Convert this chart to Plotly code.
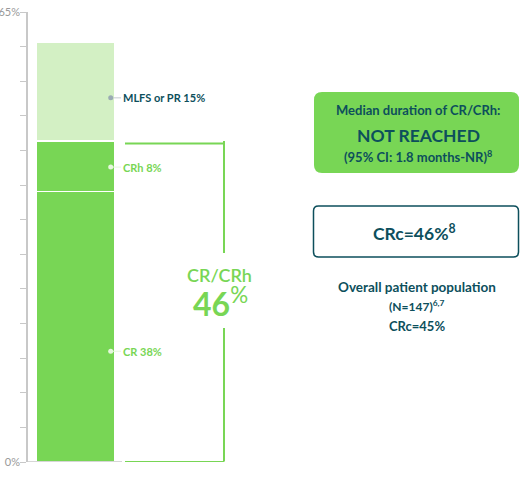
import plotly.graph_objects as go

# data
segments = ["CR", "CRh", "MLFS or PR"]
seg_values = [39.1, 7.3, 14.3]          # bar heights
seg_labels = ["CR 38%", "CRh 8%", "MLFS or PR 15%"]
label_y = [16.0, 42.6, 52.6]
crcrh_total = 46
y_ticks = [0, 65]
y_ticktext = ["0%", "65%"]

W, H = 520, 485
GREEN = "#78d655"
LIGHT = "#d3f0c4"
TEAL = "#0d4f5c"
FONT = "Lato"

def px(x):   # pixel -> paper x
    return x / W

def py(y):   # pixel -> paper y
    return 1 - y / H

def rounded(x0, y0, x1, y1, r):
    # rounded rectangle path in paper coords from pixel box
    pts = [
        ("M", x0 + r, y0), ("L", x1 - r, y0), ("Q", x1, y0, x1, y0 + r),
        ("L", x1, y1 - r), ("Q", x1, y1, x1 - r, y1), ("L", x0 + r, y1),
        ("Q", x0, y1, x0, y1 - r), ("L", x0, y0 + r), ("Q", x0, y0, x0 + r, y0),
    ]
    s = ""
    for p in pts:
        if p[0] == "Q":
            s += "Q%.5f,%.5f %.5f,%.5f " % (px(p[1]), py(p[2]), px(p[3]), py(p[4]))
        else:
            s += "%s%.5f,%.5f " % (p[0], px(p[1]), py(p[2]))
    return s + "Z"

fig = go.Figure()
colors = [GREEN, GREEN, LIGHT]
for name, val, col in zip(segments, seg_values, colors):
    fig.add_trace(go.Bar(x=[0], y=[val], name=name, width=1,
                         marker=dict(color=col, line=dict(color="white", width=1.5)),
                         hoverinfo="skip", showlegend=False))

# label dots
dot_x = 0.446
fig.add_trace(go.Scatter(x=[dot_x] * 3, y=label_y, mode="markers",
                         marker=dict(size=5, color=["#e6f7dd", "#e6f7dd", "#9aabb3"]),
                         hoverinfo="skip", showlegend=False))

shapes = []
line_cols = ["#e6f7dd", "#e6f7dd", "#c5ccd0"]
for yv, lc in zip(label_y, line_cols):
    shapes.append(dict(type="line", xref="paper", yref="y", x0=px(113), x1=px(121),
                       y0=yv, y1=yv, line=dict(color=lc, width=1)))

# bottom axis line
shapes.append(dict(type="line", xref="paper", yref="y", x0=px(28), x1=px(122),
                   y0=0, y1=0, line=dict(color="#c8c8c8", width=1.5)))

# bracket
bl = dict(color=GREEN, width=2)
shapes += [
    dict(type="line", xref="paper", yref="y", x0=px(125), x1=px(224), y0=crcrh_total, y1=crcrh_total, line=bl),
    dict(type="line", xref="paper", yref="y", x0=px(125), x1=px(224), y0=0, y1=0, line=bl),
    dict(type="line", xref="paper", yref="paper", x0=px(224), x1=px(224), y0=py(141), y1=py(253), line=bl),
    dict(type="line", xref="paper", yref="paper", x0=px(224), x1=px(224), y0=py(328), y1=py(461.5), line=bl),
]

# boxes on the right
shapes.append(dict(type="path", xref="paper", yref="paper", path=rounded(314, 92, 519, 173, 8),
                   fillcolor=GREEN, line=dict(width=0)))
shapes.append(dict(type="path", xref="paper", yref="paper", path=rounded(313.5, 206, 518.5, 257, 5),
                   fillcolor="white", line=dict(color=TEAL, width=1.5)))

ann = []
label_cols = [GREEN, GREEN, TEAL]
for txt, yv, c in zip(seg_labels, label_y, label_cols):
    ann.append(dict(text="<b>%s</b>" % txt, xref="paper", yref="y", x=px(121), y=yv,
                    xanchor="left", yanchor="middle", showarrow=False,
                    font=dict(size=11, color=c, family=FONT)))

ann.append(dict(text="CR/CRh", xref="paper", yref="paper", x=px(219), y=py(275),
                xanchor="center", yanchor="middle", showarrow=False,
                font=dict(size=18, color=GREEN, family=FONT, weight=600)))
ann.append(dict(text="<b>%d</b><sup>%%</sup>" % crcrh_total, xref="paper", yref="paper",
                x=px(220), y=py(302), xanchor="center", yanchor="middle", showarrow=False,
                font=dict(size=32, color=GREEN, family=FONT)))

right = [
    ("Median duration of CR/CRh:", 110, 13, 418),
    ("NOT REACHED", 135, 17.5, 418),
    ("(95% CI: 1.8 months-NR)<sup>8</sup>", 157, 13, 418),
    ("CRc=46%<sup>8</sup>", 232, 17.5, 414),
    ("Overall patient population", 287, 13.5, 417),
    ("(N=147)<sup>6,7</sup>", 306, 12, 417),
    ("CRc=45%", 326, 13, 417),
]
for txt, yy, sz, xx in right:
    ann.append(dict(text="<b>%s</b>" % txt, xref="paper", yref="paper", x=px(xx), y=py(yy),
                    xanchor="center", yanchor="middle", showarrow=False,
                    font=dict(size=sz, color=TEAL, family=FONT)))

fig.update_layout(
    width=W, height=H, barmode="stack",
    margin=dict(l=0, r=0, t=0, b=0),
    paper_bgcolor="white", plot_bgcolor="white",
    xaxis=dict(domain=[px(28), 1], range=[-0.601, 5.627], visible=False, fixedrange=True),
    yaxis=dict(domain=[py(462), py(12)], range=[0, 65], tickvals=y_ticks, ticktext=y_ticktext,
               showgrid=False, zeroline=False, showline=True, linecolor="#c8c8c8", linewidth=1.5,
               ticks="outside", ticklen=6, tickcolor="#c8c8c8", tickwidth=1,
               minor=dict(tick0=0, dtick=5, ticks="outside", ticklen=6, tickcolor="#c8c8c8", tickwidth=1),
               ticklabelstandoff=-2, fixedrange=True,
               tickfont=dict(size=11, color="#999999", family=FONT), automargin=False),
    shapes=shapes, annotations=ann,
)

fig.write_html("out.html", config={"displayModeBar": False},
               post_script="document.body.style.margin='0';")
